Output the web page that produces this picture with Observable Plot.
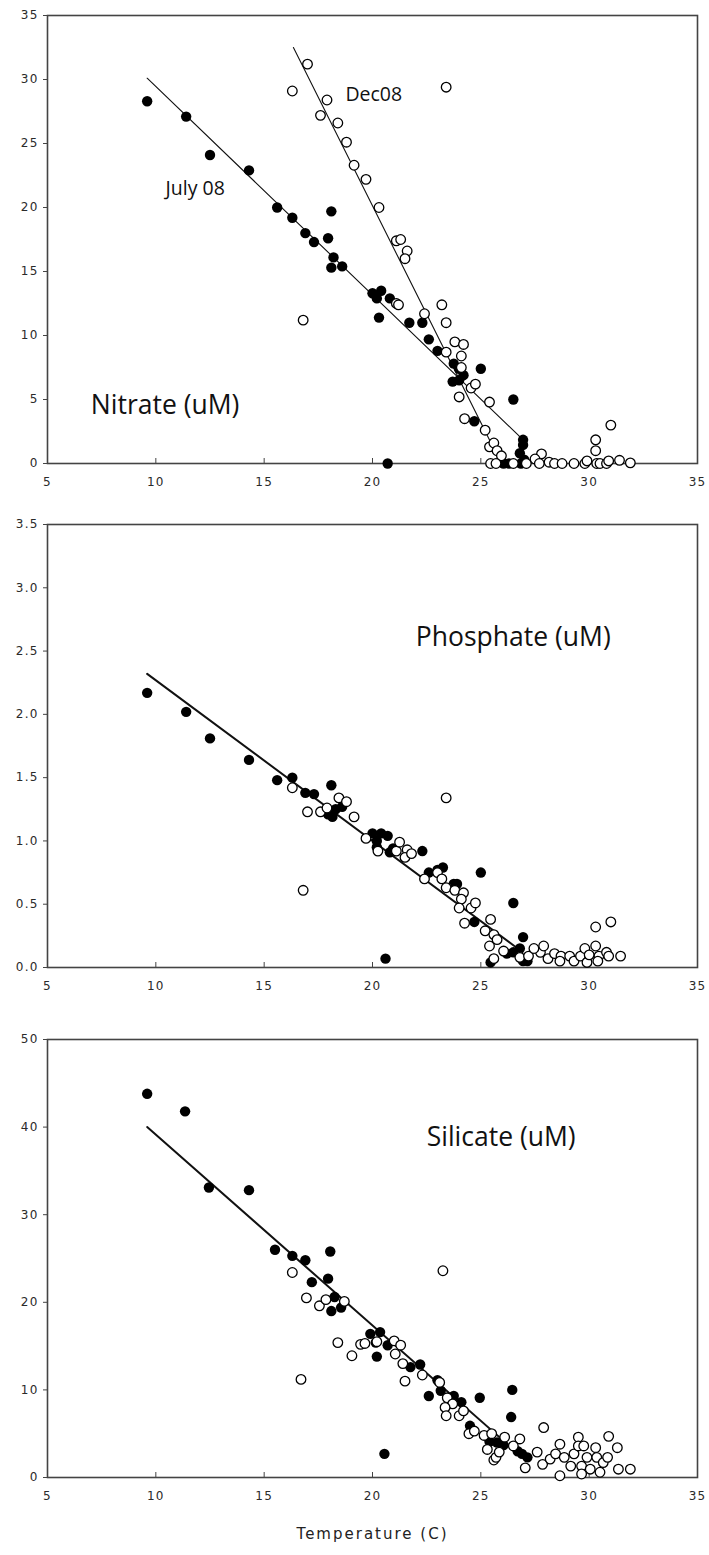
<!DOCTYPE html>
<html>
<head>
<meta charset="utf-8">
<script src="https://cdn.jsdelivr.net/npm/d3@7"></script>
<script src="https://cdn.jsdelivr.net/npm/@observablehq/plot@0.6"></script>
<style>
  html, body { margin: 0; padding: 0; background: #fff; }
  #chart { width: 709px; }
  #chart svg { display: block; }
</style>
</head>
<body>
<div id="chart"></div>
<script>
// ---------- shared axis ticks ----------
const xTicks = [5, 10, 15, 20, 25, 30, 35];
const nitrateTicks = [0, 5, 10, 15, 20, 25, 30, 35];
const phosphateTicks = [0, 0.5, 1.0, 1.5, 2.0, 2.5, 3.0, 3.5];
const silicateTicks = [0, 10, 20, 30, 40, 50];

// ---------- Nitrate (uM): [temperature, value] ----------
const nitrateJuly = [
  [9.6,28.3],[11.4,27.1],[12.5,24.1],[14.3,22.9],[15.6,20.0],[16.3,19.2],[16.9,18.0],[17.3,17.3],
  [18.1,19.7],[17.95,17.6],[18.2,16.1],[18.1,15.3],[18.6,15.4],[20.0,13.3],[20.4,13.5],[20.2,12.9],
  [20.8,12.9],[20.3,11.4],[21.7,11.0],[22.3,11.0],[22.6,9.7],[23.0,8.8],[23.75,7.8],[24.0,7.4],
  [24.2,6.9],[23.7,6.4],[24.0,6.5],[25.0,7.4],[24.7,3.3],[26.5,5.0],[26.95,1.85],[26.95,1.45],
  [26.8,0.8],[20.7,0],[26.05,0],[26.3,0],[26.85,0],[27.0,0.3]
];
const nitrateDec = [
  [16.3,29.1],[17.0,31.2],[17.6,27.2],[17.9,28.4],[18.4,26.6],[18.8,25.1],[19.15,23.3],[19.7,22.2],
  [20.3,20.0],[21.1,17.4],[21.3,17.5],[21.6,16.6],[21.5,16.0],[23.4,29.4],[16.8,11.2],[21.1,12.5],
  [21.2,12.4],[22.4,11.7],[23.2,12.4],[23.4,11.0],[23.8,9.5],[24.2,9.3],[24.1,8.4],[23.4,8.7],
  [24.1,7.5],[24.55,5.9],[24.75,6.2],[24.0,5.2],[24.25,3.5],[25.4,4.8],[25.2,2.6],[25.4,1.3],
  [25.6,1.6],[25.75,1.0],[25.95,0.6],[27.8,0.75],[30.3,1.85],[30.3,1.0],[31.0,3.0],[31.4,0.25],
  [31.9,0.05],[25.45,0],[25.7,0],[26.5,0],[27.1,0],[27.5,0.35],[27.7,0],[28.15,0.1],[28.4,0],
  [28.75,0],[29.3,0],[29.8,0],[29.9,0.2],[30.35,0],[30.5,0],[30.8,0],[30.9,0.2]
];
const nitrateFitJuly = [[9.6,30.1],[26.8,2.1]];
const nitrateFitDec = [[16.35,32.5],[25.5,1.5]];

// ---------- Phosphate (uM) ----------
const phosphateJuly = [
  [9.6,2.17],[11.4,2.02],[12.5,1.81],[14.3,1.64],[15.6,1.48],[16.3,1.50],[16.9,1.38],[17.3,1.37],
  [18.1,1.44],[17.95,1.21],[18.15,1.19],[18.3,1.25],[18.6,1.27],[20.0,1.06],[20.4,1.06],[20.2,1.0],
  [20.7,1.04],[20.2,0.95],[20.8,0.91],[20.95,0.94],[22.3,0.92],[22.6,0.75],[23.0,0.77],[23.25,0.79],
  [23.75,0.66],[23.9,0.66],[24.7,0.36],[25.0,0.75],[26.5,0.51],[26.95,0.24],[26.8,0.15],[26.95,0.05],
  [26.5,0.12],[26.2,0.11],[25.45,0.04],[27.15,0.05],[20.6,0.07]
];
const phosphateDec = [
  [16.3,1.42],[17.0,1.23],[17.6,1.23],[17.9,1.26],[18.45,1.34],[18.8,1.31],[19.15,1.19],[19.7,1.02],
  [20.25,0.92],[21.1,0.92],[21.25,0.99],[21.6,0.93],[21.5,0.87],[21.8,0.90],[22.4,0.70],[23.0,0.75],
  [23.2,0.70],[23.4,1.34],[23.4,0.63],[23.8,0.61],[24.2,0.59],[24.1,0.54],[24.0,0.47],[24.55,0.47],
  [24.75,0.51],[24.25,0.35],[16.8,0.61],[25.45,0.38],[25.2,0.29],[25.6,0.26],[25.75,0.22],[25.4,0.17],
  [25.6,0.07],[26.05,0.13],[26.8,0.08],[27.2,0.09],[27.75,0.12],[27.9,0.17],[27.45,0.15],[28.1,0.07],
  [28.4,0.11],[28.7,0.09],[29.1,0.09],[29.3,0.05],[29.6,0.09],[29.8,0.15],[29.9,0.04],[30.3,0.32],
  [31.0,0.36],[30.3,0.17],[30.45,0.09],[30.8,0.12],[30.9,0.09],[31.45,0.09],[28.65,0.05],[30.4,0.05],
  [30.0,0.1]
];
const phosphateFit = [[9.6,2.32],[26.7,0.15]];

// ---------- Silicate (uM) ----------
const silicateJuly = [
  [9.6,43.8],[11.35,41.8],[12.45,33.1],[14.3,32.8],[15.5,26.0],[16.3,25.3],[16.9,24.8],[17.2,22.3],
  [18.05,25.8],[17.95,22.7],[18.25,20.6],[18.1,19.0],[18.55,19.4],[19.9,16.4],[20.35,16.6],[20.15,15.4],
  [20.2,13.8],[20.7,15.1],[21.75,12.6],[22.2,12.9],[22.6,9.3],[23.0,11.1],[23.15,9.9],[23.75,9.3],
  [24.1,8.6],[24.5,5.9],[24.95,9.1],[26.45,10.0],[26.4,6.9],[25.4,4.1],[25.75,4.0],[26.05,3.7],
  [26.7,3.0],[26.9,2.7],[27.15,2.3],[20.55,2.7]
];
const silicateDec = [
  [16.3,23.4],[16.95,20.5],[17.55,19.6],[17.85,20.3],[18.7,20.1],[18.4,15.4],[19.05,13.9],[16.7,11.2],
  [19.45,15.2],[19.65,15.3],[20.2,15.5],[21.0,15.6],[21.3,15.1],[21.05,14.1],[21.4,13.0],[21.5,11.0],
  [22.3,11.7],[23.1,10.85],[23.25,23.6],[23.45,9.1],[23.7,8.4],[23.35,8.0],[23.4,7.05],[24.0,7.05],
  [24.2,7.6],[24.45,5.0],[24.7,5.3],[25.15,4.8],[25.5,5.0],[26.1,4.6],[25.3,3.2],[25.6,2.0],
  [25.7,2.3],[25.85,2.9],[26.8,4.4],[26.5,3.6],[27.05,1.1],[27.9,5.7],[27.6,2.9],[27.85,1.5],
  [28.2,2.1],[28.45,2.7],[28.65,3.8],[28.65,0.2],[28.85,2.3],[29.15,1.3],[29.3,2.7],[29.5,4.6],
  [29.5,3.6],[29.75,3.6],[29.65,1.3],[29.9,2.3],[30.05,0.95],[30.3,3.4],[30.35,2.3],[30.5,0.6],
  [30.65,1.7],[30.85,2.3],[30.9,4.7],[31.3,3.4],[31.35,0.95],[31.9,0.95],[29.65,0.4]
];
const silicateFit = [[9.6,40.0],[27.1,1.9]];

// ---------- drawing ----------
const W = 709;
const TICK_FONT = "'DejaVu Sans', sans-serif";
const LABEL_FONT = "'Open Sans', sans-serif";

function panel({height, marginTop, marginBottom, yTicks, yFormat, july, dec, fits, fitWidth, texts, xTitle}) {
  const innerH = height - marginTop - marginBottom;
  const marks = [
    Plot.frame({stroke: "#444", strokeWidth: 1.6}),
    Plot.ruleX(xTicks.slice(1, -1), {x: d => d, insetTop: innerH - 5, stroke: "#444", strokeWidth: 1}),
    Plot.axisY(yTicks, {tickSize: 4, tickPadding: 5, tickFormat: yFormat, label: null,
      fontSize: 12, fill: "#2a2a2a", stroke: "#444"}),
    Plot.axisX(xTicks, {tickSize: 0, tickPadding: 14, label: null, fontSize: 12, fill: "#2a2a2a"}),
    ...fits.map(f => Plot.line(f, {x: d => d[0], y: d => d[1], stroke: "#111", strokeWidth: fitWidth})),
    Plot.dot(july, {x: d => d[0], y: d => d[1], r: 5.2, fill: "#000", stroke: "none"}),
    Plot.dot(dec, {x: d => d[0], y: d => d[1], r: 4.8, fill: "#fff", stroke: "#000", strokeWidth: 1.3}),
    ...texts.map(t => Plot.text([t.label], {x: t.x, y: t.y, text: d => d, textAnchor: "start",
      fontSize: t.size, fontFamily: LABEL_FONT, fill: "#111"}))
  ];
  if (xTitle) {
    marks.push(Plot.text([xTitle], {frameAnchor: "bottom", dy: 61, text: d => d,
      fontSize: 15, fontFamily: TICK_FONT, fill: "#222"}));
  }
  const svg = Plot.plot({
    width: W, height, marginLeft: 47, marginRight: 12, marginTop, marginBottom,
    style: {fontFamily: TICK_FONT, background: "#fff", overflow: "visible"},
    x: {domain: [5, 35]},
    y: {domain: [yTicks[0], yTicks[yTicks.length - 1]]},
    marks
  });
  svg.querySelectorAll('[aria-label="x-axis tick label"], [aria-label="y-axis tick label"]')
    .forEach(g => g.setAttribute("letter-spacing", "1.2"));
  svg.querySelectorAll('[aria-label="text"]').forEach(g => {
    if (g.textContent === xTitle) g.setAttribute("letter-spacing", "2");
  });
  return svg;
}

const chart = document.getElementById("chart");

chart.appendChild(panel({
  height: 500, marginTop: 15, marginBottom: 37,
  yTicks: nitrateTicks, yFormat: d => String(d),
  july: nitrateJuly, dec: nitrateDec,
  fits: [nitrateFitJuly, nitrateFitDec], fitWidth: 1.1,
  texts: [
    {label: "July 08", x: 10.45, y: 21.5, size: 19.5},
    {label: "Dec08", x: 18.75, y: 28.8, size: 19.5},
    {label: "Nitrate (uM)", x: 7.0, y: 4.55, size: 26.5}
  ]
}));

chart.appendChild(panel({
  height: 520, marginTop: 24, marginBottom: 53,
  yTicks: phosphateTicks, yFormat: d3.format(".1f"),
  july: phosphateJuly, dec: phosphateDec,
  fits: [phosphateFit], fitWidth: 2,
  texts: [
    {label: "Phosphate (uM)", x: 22.0, y: 2.61, size: 26.5}
  ]
}));

chart.appendChild(panel({
  height: 535, marginTop: 19, marginBottom: 78,
  yTicks: silicateTicks, yFormat: d => String(d),
  july: silicateJuly, dec: silicateDec,
  fits: [silicateFit], fitWidth: 2,
  texts: [
    {label: "Silicate (uM)", x: 22.5, y: 38.8, size: 26.5}
  ],
  xTitle: "Temperature (C)"
}));
</script>
</body>
</html>
